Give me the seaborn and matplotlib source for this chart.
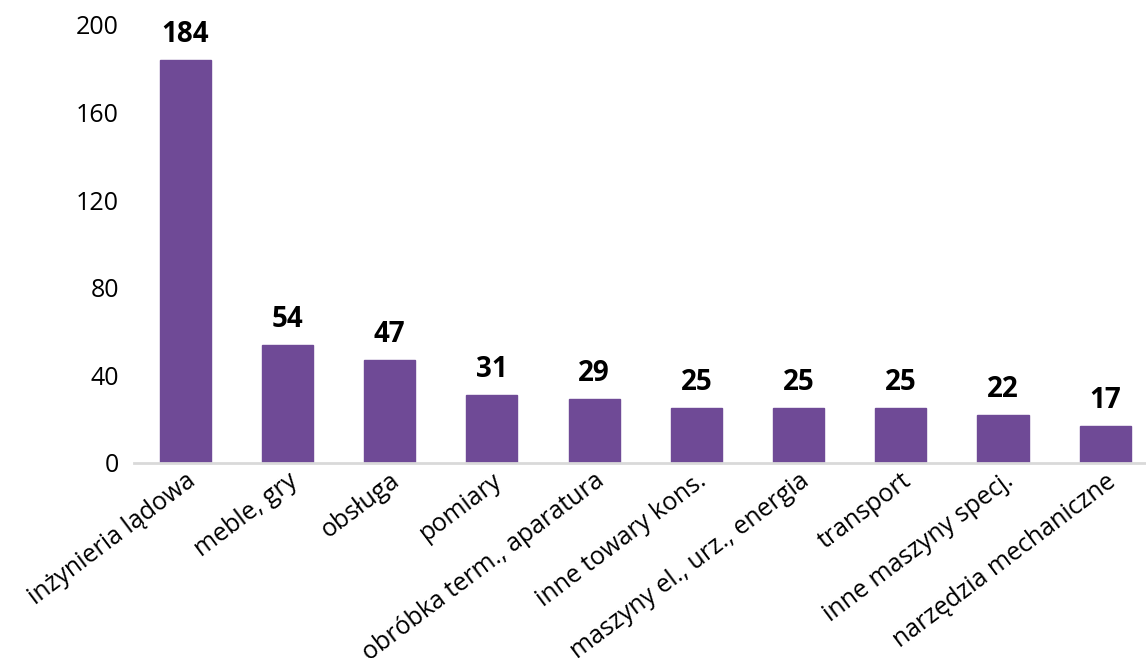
import matplotlib
matplotlib.use("Agg")
import matplotlib.pyplot as plt
import seaborn as sns
import pandas as pd

categories = ["inżynieria lądowa", "meble, gry", "obsługa", "pomiary",
              "obróbka term., aparatura", "inne towary kons.",
              "maszyny el., urz., energia", "transport",
              "inne maszyny specj.", "narzędzia mechaniczne"]
values = [184, 54, 47, 31, 29, 25, 25, 25, 22, 17]
yticks = [0, 40, 80, 120, 160, 200]

sns.set_theme(style="white")
plt.rcParams['font.family'] = ['Open Sans', 'DejaVu Sans']

df = pd.DataFrame({"cat": categories, "val": values})
fig = plt.figure(figsize=(11.46, 6.58), dpi=100)
ax = fig.add_axes([0.117, 0.2964, 0.892, 0.666])
sns.barplot(data=df, x="cat", y="val", color="#6F4A96", saturation=1,
            width=0.5, ax=ax, edgecolor="#6F4A96")
ax.set_ylim(0, 200)
ax.set_xlim(-0.5, len(categories) - 0.5)
ax.set_yticks(yticks)
ax.set_yticklabels([str(t) for t in yticks], fontsize=18, color="black")
ax.set_xlabel("")
ax.set_ylabel("")
ax.tick_params(axis="both", length=0)
ax.tick_params(axis="y", pad=11)
ax.tick_params(axis="x", pad=4)
ax.set_xticks(range(len(categories)))
ax.set_xticklabels(categories, rotation=37, ha="right", rotation_mode="anchor",
                   fontsize=18, color="black")
for s in ["top", "right", "left"]:
    ax.spines[s].set_visible(False)
ax.spines["bottom"].set_color("#D9D9D9")
ax.spines["bottom"].set_linewidth(2)
ax.spines["bottom"].set_zorder(5)
for c in ax.containers:
    ax.bar_label(c, labels=[str(v) for v in values], padding=8,
                 fontsize=20, fontweight="bold", color="black")
fig.savefig("out.png", dpi=100)
